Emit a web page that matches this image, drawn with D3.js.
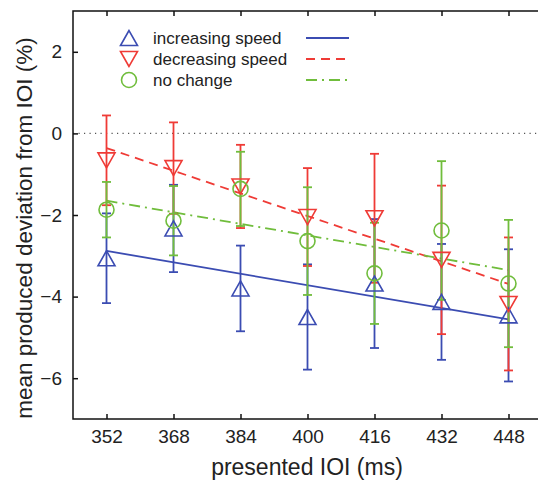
<!DOCTYPE html>
<html>
<head>
<meta charset="utf-8">
<script src="https://cdn.jsdelivr.net/npm/d3@7"></script>
<style>
  body { margin: 0; background: #fff; }
  svg { font-family: "Liberation Sans", Arial, sans-serif; }
</style>
</head>
<body>
<svg id="chart" width="538" height="481"></svg>
<script>
// presented IOI (ms)
const iois = [352, 368, 384, 400, 416, 432, 448];
const yTicks = [2, 0, -2, -4, -6];

// mean deviation (%) and error half-widths
const incMean = [-3.06, -2.33, -3.80, -4.50, -3.68, -4.13, -4.46];
const incErr  = [1.10, 1.07, 1.05, 1.29, 1.58, 1.42, 1.62];
const decMean = [-0.66, -0.85, -1.30, -2.05, -2.08, -3.10, -4.18];
const decErr  = [1.10, 1.12, 1.02, 1.20, 1.58, 1.82, 1.63];
const noMean  = [-1.87, -2.14, -1.36, -2.64, -3.43, -2.38, -3.68];
const noErr   = [0.68, 0.85, 0.91, 1.32, 1.24, 1.70, 1.56];

// fitted lines: [ioi, value] at both ends
const incFit = [[352, -2.88], [448, -4.56]];
const decFit = [[352, -0.36], [448, -3.69]];
const noFit  = [[352, -1.65], [448, -3.35]];

const series = [
  { name: 'increasing speed', mean: incMean, err: incErr, fit: incFit, color: '#3b4cb2', marker: 'up', dash: null },
  { name: 'decreasing speed', mean: decMean, err: decErr, fit: decFit, color: '#ef3b36', marker: 'down', dash: '9,6' },
  { name: 'no change', mean: noMean, err: noErr, fit: noFit, color: '#70bd3c', marker: 'circle', dash: '11,5,2,5' }
];

const svg = d3.select('#chart');
const DIM = { left: 73, right: 542, top: 11, bottom: 419 };

const xScale = d3.scaleLinear().domain([344, 456]).range([DIM.left, DIM.right]);
const yScale = d3.scaleLinear().domain([-7, 3]).range([DIM.bottom, DIM.top]);

// zero reference line
svg.append('line')
  .attr('x1', DIM.left).attr('x2', DIM.right)
  .attr('y1', yScale(0)).attr('y2', yScale(0))
  .attr('stroke', '#555').attr('stroke-width', 1.2)
  .attr('stroke-dasharray', '1.2,4.3');

// frame
svg.append('rect')
  .attr('x', DIM.left).attr('y', DIM.top)
  .attr('width', DIM.right - DIM.left).attr('height', DIM.bottom - DIM.top)
  .attr('fill', 'none').attr('stroke', '#111').attr('stroke-width', 1.5);

// axes, ticks pointing inward
const xAxis = svg.append('g')
  .attr('transform', `translate(0,${DIM.bottom})`)
  .call(d3.axisBottom(xScale).tickValues(iois).tickSizeInner(-5).tickSizeOuter(0).tickPadding(11));
const xAxisTop = svg.append('g')
  .attr('transform', `translate(0,${DIM.top})`)
  .call(d3.axisTop(xScale).tickValues(iois).tickSizeInner(-5).tickSizeOuter(0).tickFormat(''));
const yAxis = svg.append('g')
  .attr('transform', `translate(${DIM.left},0)`)
  .call(d3.axisLeft(yScale).tickValues(yTicks).tickSizeInner(-5).tickSizeOuter(0).tickPadding(11)
    .tickFormat(d => d < 0 ? '\u2212' + Math.abs(d) : d));
[xAxis, xAxisTop, yAxis].forEach(g => {
  g.select('.domain').remove();
  g.selectAll('.tick line').attr('stroke', '#111').attr('stroke-width', 1.5);
  g.selectAll('.tick text').attr('fill', '#222').style('font-size', '19px');
});

// axis titles
svg.append('text')
  .attr('x', 307).attr('y', 475)
  .attr('text-anchor', 'middle')
  .style('font-size', '23px').attr('fill', '#222')
  .text('presented IOI (ms)');
svg.append('text')
  .attr('transform', 'translate(32,228) rotate(-90)')
  .attr('text-anchor', 'middle')
  .style('font-size', '22.5px').attr('fill', '#222')
  .text('mean produced deviation from IOI (%)');

const line = d3.line().x(d => xScale(d[0])).y(d => yScale(d[1]));

// fitted lines
series.forEach(s => {
  svg.append('path')
    .datum(s.fit)
    .attr('d', line)
    .attr('fill', 'none')
    .attr('stroke', s.color)
    .attr('stroke-width', 1.8)
    .attr('stroke-dasharray', s.dash);
});

function drawMarker(g, type, x, y, color) {
  if (type === 'circle') {
    g.append('circle').attr('cx', x).attr('cy', y).attr('r', 7.5)
      .attr('fill', 'none').attr('stroke', color).attr('stroke-width', 1.6);
  } else {
    const w = 8.5, h = 7.5;
    const s = type === 'up' ? 1 : -1;
    const pts = [[x, y - s * h], [x - w, y + s * h], [x + w, y + s * h]];
    g.append('path').attr('d', d3.line()(pts) + 'Z')
      .attr('fill', 'none').attr('stroke', color).attr('stroke-width', 1.6);
  }
}

// error bars
const capW = 4.5;
series.forEach(s => {
  const g = svg.append('g');
  iois.forEach((ioi, i) => {
    const x = xScale(ioi);
    const y1 = yScale(s.mean[i] + s.err[i]);
    const y2 = yScale(s.mean[i] - s.err[i]);
    g.append('line').attr('x1', x).attr('x2', x).attr('y1', y1).attr('y2', y2)
      .attr('stroke', s.color).attr('stroke-width', 1.8);
    [y1, y2].forEach(yy => {
      g.append('line').attr('x1', x - capW).attr('x2', x + capW).attr('y1', yy).attr('y2', yy)
        .attr('stroke', s.color).attr('stroke-width', 1.8);
    });
  });
});

// markers
series.forEach(s => {
  const g = svg.append('g');
  iois.forEach((ioi, i) => drawMarker(g, s.marker, xScale(ioi), yScale(s.mean[i]), s.color));
});

// legend
const legend = svg.append('g');
series.forEach((s, i) => {
  const y = 38 + i * 21;
  drawMarker(legend, s.marker, 129, y, s.color);
  legend.append('text')
    .attr('x', 153).attr('y', y + 6)
    .style('font-size', '17px').attr('fill', '#222')
    .text(s.name);
  legend.append('line')
    .attr('x1', 306).attr('x2', 349).attr('y1', y).attr('y2', y)
    .attr('stroke', s.color).attr('stroke-width', 1.8)
    .attr('stroke-dasharray', s.dash);
});
</script>
</body>
</html>
